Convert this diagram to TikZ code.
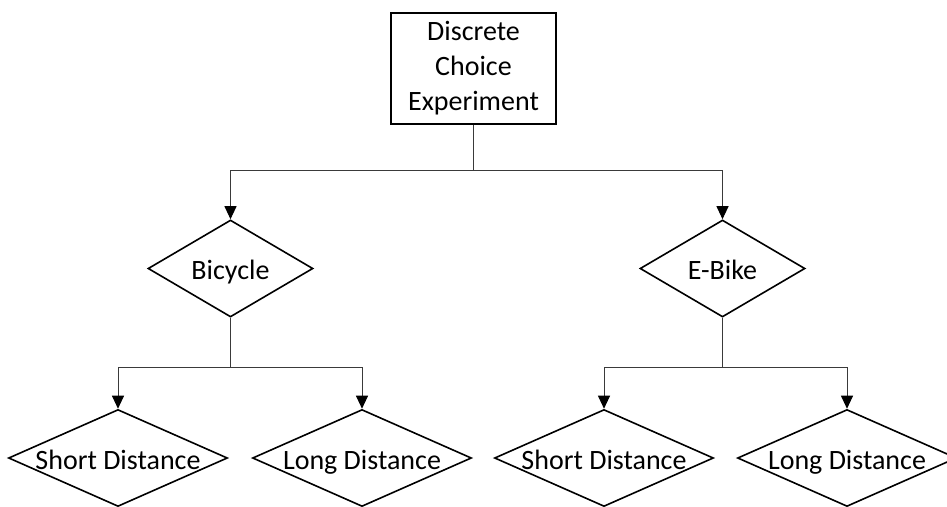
\documentclass[tikz,border=0pt]{standalone}
\usepackage{fontspec}
\setmainfont{Carlito}
\usetikzlibrary{shapes.geometric, arrows.meta, positioning}
\definecolor{dceline}{HTML}{3a3a3a}

\begin{document}
\begin{tikzpicture}[
  x=1pt, y=-1pt,
  every node/.style={font=\fontsize{28}{35}\selectfont, inner sep=0pt},
  root box/.style={draw, line width=1.6pt, align=center, minimum width=165pt, minimum height=111pt},
  option/.style={diamond, draw, line width=1.6pt, text height=22pt, text depth=0pt,
    execute at begin node={\hbox to 0pt\bgroup\hss}, execute at end node={\hss\egroup}},
  level 1 option/.style={option, minimum width=165pt, minimum height=97pt},
  level 2 option/.style={option, minimum width=219pt, minimum height=97pt},
  link/.style={draw=dceline, line width=1pt, -{Triangle[width=12pt, length=13pt, color=black]}}
]
\useasboundingbox (0,0) rectangle (947,506);

\node[root box] (dce) at (473.5,68.5) {Discrete\\Choice\\Experiment};

\node[level 1 option] (bike) at (230.5,268.5) {Bicycle};
\node[level 1 option] (ebike) at (722.5,268.5) {E-Bike};

\node[level 2 option] (bike short) at (118,458) {Short Distance};
\node[level 2 option] (bike long) at (362,458) {Long Distance};
\node[level 2 option] (ebike short) at (604,458) {Short Distance};
\node[level 2 option] (ebike long) at (847,458) {Long Distance};

\draw[link] (dce.south) -- ++(0,46) -| (bike.north);
\draw[link] (dce.south) -- ++(0,46) -| (ebike.north);
\draw[link] (bike.south) -- ++(0,50) -| (bike short.north);
\draw[link] (bike.south) -- ++(0,50) -| (bike long.north);
\draw[link] (ebike.south) -- ++(0,50) -| (ebike short.north);
\draw[link] (ebike.south) -- ++(0,50) -| (ebike long.north);
\end{tikzpicture}
\end{document}
